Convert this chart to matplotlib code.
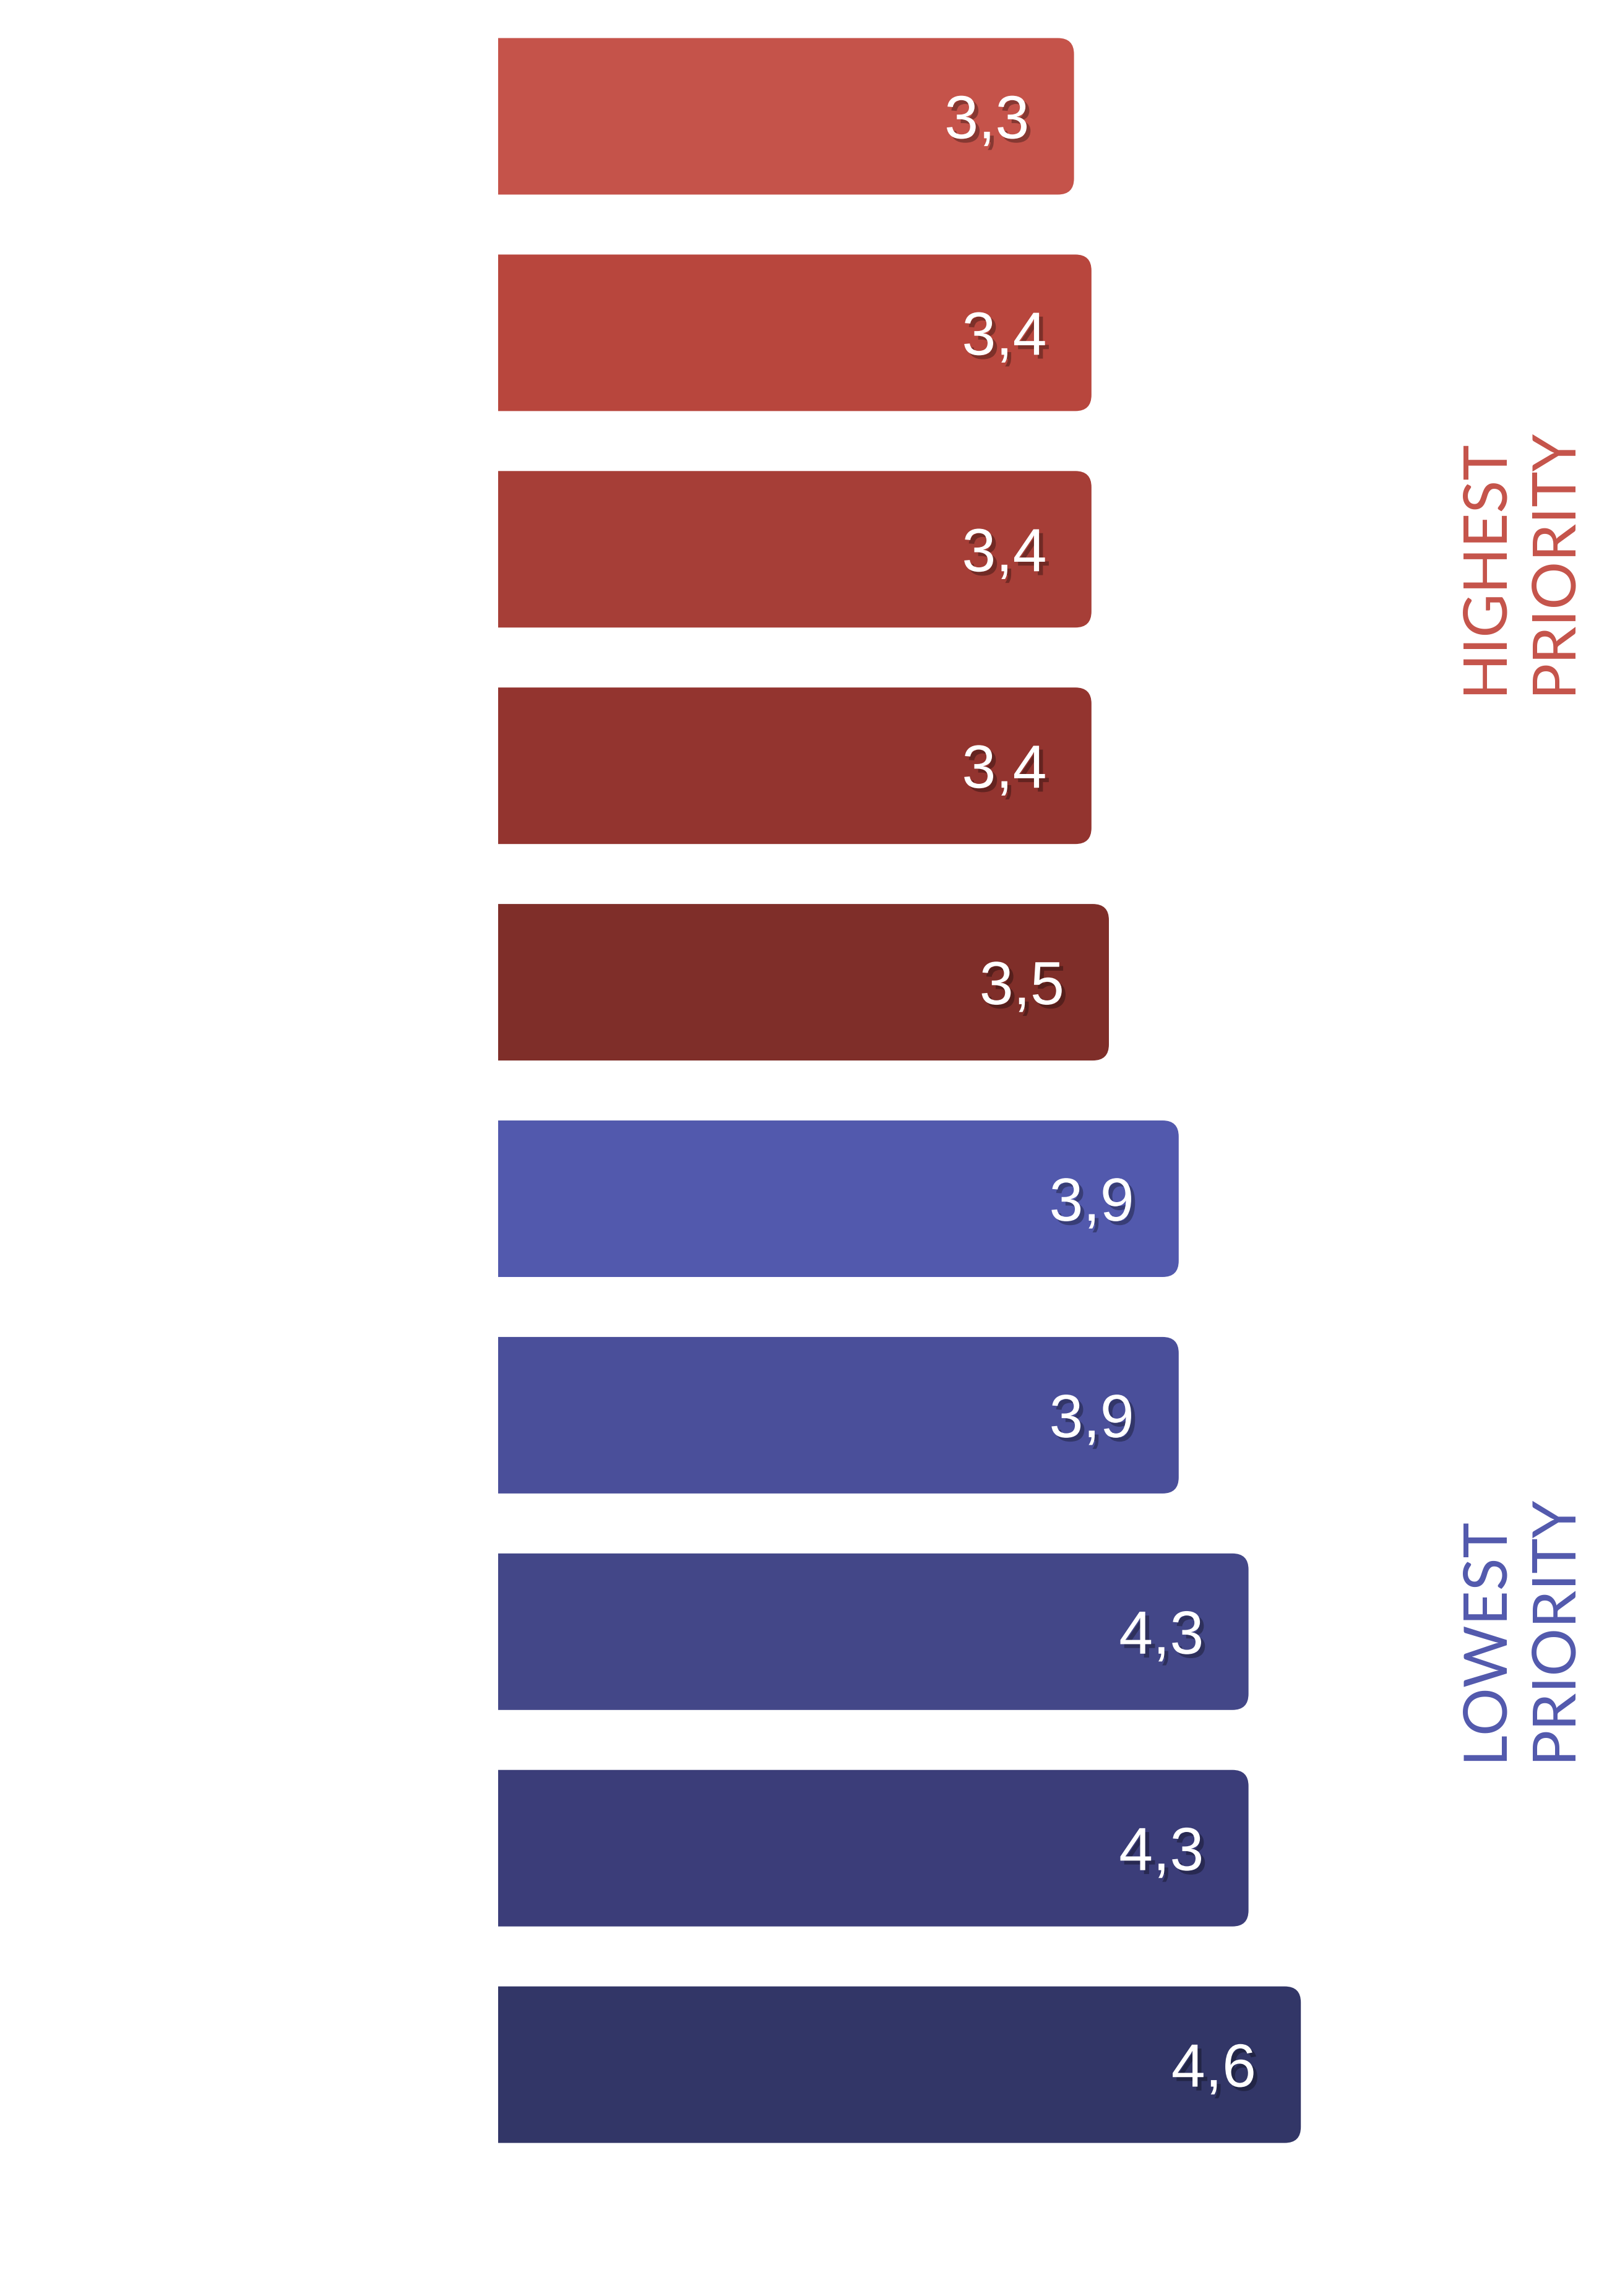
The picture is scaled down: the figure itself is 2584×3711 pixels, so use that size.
import matplotlib
matplotlib.use("Agg")
import matplotlib.pyplot as plt
from matplotlib.path import Path
from matplotlib.patches import PathPatch
import matplotlib.patheffects as pe
import matplotlib.colors as mcolors
import numpy as np

# ---- data ----
values = [3.3, 3.4, 3.4, 3.4, 3.5, 3.9, 3.9, 4.3, 4.3, 4.6]
bar_colors = ["#C5534A", "#B8463D", "#A63E37", "#93342F", "#7F2E29",
              "#5259AD", "#4A4F9A", "#434788", "#3B3D79", "#323667"]
group_labels = ["HIGHEST\nPRIORITY", "LOWEST\nPRIORITY"]
group_colors = ["#C5534A", "#5259AD"]

W, H, DPI = 2584, 3711, 100
fig = plt.figure(figsize=(W / DPI, H / DPI), dpi=DPI)
fig.patch.set_facecolor("white")

x0_px = 805.0
px_per_unit = 282.0
row_px = 349.9
first_center_px = 188.0

ax = fig.add_axes([x0_px / W, 0, 1 - x0_px / W, 1])
ax.set_xlim(0, (W - x0_px) / px_per_unit)
ax.set_ylim((H - first_center_px) / row_px, -first_center_px / row_px)
ax.axis("off")

bar_h = 0.723
rx = 26 / px_per_unit
ry = 26 / row_px

for i, (v, c) in enumerate(zip(values, bar_colors)):
    y0 = i - bar_h / 2
    y1 = i + bar_h / 2
    verts = [(0, y0), (v - rx, y0), (v, y0), (v, y0 + ry), (v, y1 - ry),
             (v, y1), (v - rx, y1), (0, y1), (0, y0)]
    codes = [Path.MOVETO, Path.LINETO, Path.CURVE3, Path.CURVE3, Path.LINETO,
             Path.CURVE3, Path.CURVE3, Path.LINETO, Path.CLOSEPOLY]
    ax.add_patch(PathPatch(Path(verts, codes), facecolor=c, edgecolor="none"))
    shadow = tuple(np.array(mcolors.to_rgb(c)) * 0.68)
    ax.annotate(f"{v:.1f}".replace(".", ","), xy=(v, i), xytext=(-52, 0),
                textcoords="offset points", ha="right", va="center_baseline",
                color="white", fontsize=71, family="Liberation Sans",
                path_effects=[pe.withSimplePatchShadow(offset=(4.5, -4.5),
                                                       shadow_rgbFace=shadow, alpha=1.0)])

# side group labels
side_pos = [(2455, 1122), (2455, 2846)]
for (lbl, col, (xp, yp)) in zip(group_labels, group_colors, side_pos):
    fig.text(xp / W, 1 - yp / H, lbl, rotation=90, ha="center", va="bottom",
             color=col, fontsize=70, family="Lato", fontweight="normal",
             linespacing=1.32, multialignment="left")

fig.savefig("out.png", dpi=DPI, facecolor="white")
